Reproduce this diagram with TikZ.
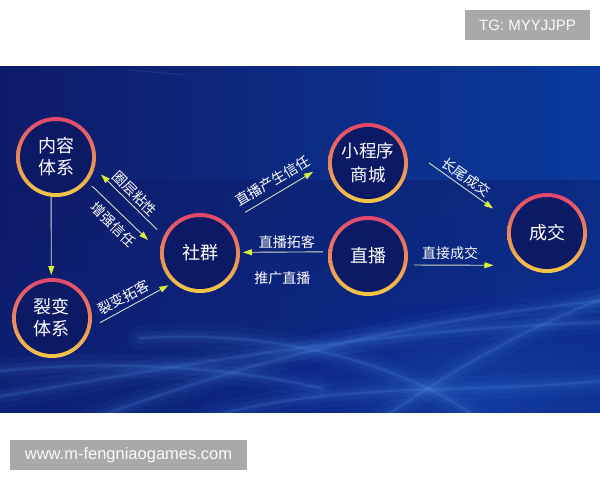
\documentclass[tikz,border=0pt]{standalone}
\usepackage{fontspec}
\setmainfont{Liberation Sans}
\newfontfamily\cjk{Noto Sans CJK SC}
\usetikzlibrary{arrows.meta}
\definecolor{bgdark}{HTML}{0E1B68}
\definecolor{bgmid}{HTML}{0B2484}
\definecolor{bgright}{HTML}{0A3A9E}
\definecolor{bglow}{HTML}{1C4CB8}
\definecolor{wave}{HTML}{5A9CF0}
\definecolor{ringtop}{HTML}{E2476E}
\definecolor{ringbot}{HTML}{F3C846}
\definecolor{ringin}{HTML}{0C1A66}
\definecolor{linecol}{HTML}{D2DEC4}
\definecolor{tipcol}{HTML}{D6F03A}
\definecolor{boxgray}{HTML}{A9A9A9}
\tikzset{
  ringnode/.style={circle, minimum size=80pt, inner sep=0pt, outer sep=0pt,
    top color=ringtop, bottom color=ringbot},
  innernode/.style={circle, minimum size=72pt, inner sep=0pt, fill=ringin,
    text=white, align=center, font=\cjk\fontsize{18}{22}\selectfont},
  arr/.style={draw=linecol, line width=0.9pt,
    -{Triangle[length=9pt,width=6pt,color=tipcol]}},
  lab/.style={text=white, inner sep=1pt, font=\cjk\fontsize{14}{16}\selectfont},
  graybox/.style={fill=boxgray, text=white!95!gray, inner sep=0pt, minimum height=30pt},
  wavestroke/.style={draw=wave, line cap=round}
}
\begin{document}
\begin{tikzpicture}[x=1pt,y=-1pt]
\useasboundingbox (0,0) rectangle (600,480);
\fill[white] (0,0) rectangle (600,480);
% background panel
\shade[left color=bgdark, right color=bgright] (0,66) rectangle (600,412);
\shade[top color=bgdark, bottom color=bgmid, opacity=0.45] (0,180) rectangle (600,412);
\begin{scope}
\clip (0,66) rectangle (600,412);
\shade[inner color=bglow, outer color=bgmid, opacity=0.5] (480,390) ellipse (220 and 90);
\foreach \w/\o in {24/0.05,12/0.07,5/0.09,1.5/0.16}{
  \draw[wavestroke, line width=\w pt, opacity=\o] (90,420) .. controls (250,360) and (420,318) .. (610,300);
  \draw[wavestroke, line width=\w pt, opacity=\o] (-10,398) .. controls (150,372) and (350,330) .. (610,322);
  \draw[wavestroke, line width=\w pt, opacity=\o] (140,338) .. controls (300,328) and (420,375) .. (480,420);
  \draw[wavestroke, line width=\w pt, opacity=\o] (380,420) .. controls (450,372) and (520,330) .. (610,296);
  \draw[wavestroke, line width=\w pt, opacity=\o] (-10,372) .. controls (100,360) and (220,365) .. (320,388);
  \draw[wavestroke, line width=\w pt, opacity=\o] (200,420) .. controls (330,380) and (470,395) .. (610,380);
}
\draw[wavestroke, line width=1.2pt, opacity=0.15] (130,70) -- (185,75);
\end{scope}
% gray boxes
\node[graybox, minimum width=125pt, font=\fontsize{15}{18}\selectfont] (tg) at (527.5,25) {TG: MYYJJPP};
\node[graybox, minimum width=237pt, font=\fontsize{16.5}{20}\selectfont] (url) at (128.5,455) {www.m-fengniaogames.com};
% circle nodes
\node[ringnode] (NR) at (56,157) {};
\node[innernode] (NRt) at (NR) {内容\\体系};
\node[ringnode] (LB) at (52,318) {};
\node[innernode] (LBt) at (LB) {裂变\\体系};
\node[ringnode] (SQ) at (200,253) {};
\node[innernode] (SQt) at (SQ) {社群};
\node[ringnode] (XC) at (368,163) {};
\node[innernode, font=\cjk\fontsize{17.5}{24}\selectfont] (XCt) at (XC) {小程序\\商城};
\node[ringnode] (ZB) at (368,256) {};
\node[innernode] (ZBt) at (ZB) {直播};
\node[ringnode] (CJ) at (547,233) {};
\node[innernode] (CJt) at (CJ) {成交};
% connectors
\draw[arr, shorten >=3pt] (NR.-97) -- (LB.91);
\draw[arr, shorten <=9.2pt, shorten >=9.3pt] (SQ.155.5) -- node[lab, sloped, above=2pt, pos=0.52] (l1) {圈层粘性} (NR.-16.7);
\draw[arr, shorten <=6.3pt, shorten >=16.7pt] (NR.-38.1) -- node[lab, sloped, below=5pt, pos=0.48] (l2) {增强信任} (SQ.178);
\draw[arr, shorten <=10.7pt, shorten >=5.5pt] (LB.-14.8) -- node[lab, sloped, above=3pt, pos=0.46] (l3) {裂变拓客} (SQ.-132.9);
\draw[arr, shorten <=21.6pt, shorten >=17.4pt] (SQ.48.7) -- node[lab, sloped, above=5pt, pos=0.52] (l4) {直播产生信任} (XC.180);
\draw[arr, shorten <=31.3pt, shorten >=19.7pt] (XC.27.2) -- node[lab, sloped, above=2pt, pos=0.54] (l5) {长尾成交} (CJ.161.8);
\draw[arr, shorten <=5.2pt, shorten >=3pt] (ZB.174.3) -- node[lab, above=2pt, pos=0.47] (l6) {直播拓客} node[lab, below=18pt, pos=0.52] (l7) {推广直播} (SQ.1.4);
\draw[arr, shorten <=7pt, shorten >=30pt] (ZB.-13) -- node[lab, above=4pt, pos=0.37] (l8) {直接成交} (CJ.-126.9);
\end{tikzpicture}
\end{document}
